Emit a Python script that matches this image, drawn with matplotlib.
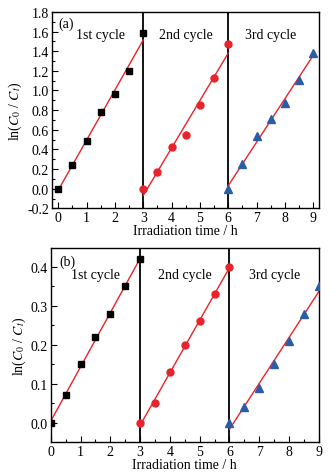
import numpy as np
import matplotlib
matplotlib.use("Agg")
import matplotlib.pyplot as plt

plt.rcParams['font.family'] = ['Liberation Serif', 'DejaVu Serif']
plt.rcParams['mathtext.fontset'] = 'stix'
plt.rcParams['font.size'] = 10

# time points for each cycle (h)
t1 = [0, 0.5, 1, 1.5, 2, 2.5, 3]
t2 = [3, 3.5, 4, 4.5, 5, 5.5, 6]
t3 = [6, 6.5, 7, 7.5, 8, 8.5, 9]

# panel (a)
a1 = [0.0, 0.24, 0.49, 0.78, 0.96, 1.20, 1.58]
a2 = [0.0, 0.17, 0.42, 0.55, 0.85, 1.13, 1.47]
a3 = [0.0, 0.25, 0.54, 0.71, 0.87, 1.11, 1.38]

# panel (b)
b1 = [0.0, 0.07, 0.15, 0.22, 0.28, 0.35, 0.42]
b2 = [0.0, 0.05, 0.13, 0.20, 0.26, 0.33, 0.40]
b3 = [0.0, 0.04, 0.09, 0.15, 0.21, 0.28, 0.35]

cycle_labels = ['1st cycle', '2nd cycle', '3rd cycle']

red = '#e8232a'
blue = '#2b5ca8'
styles = [('s', 'black', 4.2), ('o', red, 5), ('^', blue, 5.5)]

fig = plt.figure(figsize=(3.36, 4.77), dpi=100)
ax_a = fig.add_axes([0.154, 0.561, 0.795, 0.412])
ax_b = fig.add_axes([0.151, 0.071, 0.798, 0.408])


def draw_panel(ax, series, xlim, ylim, yticks, yminor, tag, tag_pos, lab_y):
    for (t, y), (m, c, ms) in zip(series, styles):
        ax.plot(t, y, linestyle='none', marker=m, color=c, markersize=ms, zorder=3)
        k, b = np.polyfit(t, y, 1)
        xx = np.array([t[0], t[-1]])
        ax.plot(xx, k * xx + b, color=red, lw=1, zorder=2)
    for xv in [3, 6]:
        ax.axvline(xv, color='black', lw=1.3, zorder=1)
    ax.set_xlim(*xlim)
    ax.set_ylim(*ylim)
    ax.set_xticks(range(0, 10))
    ax.set_xticks(np.arange(0.5, 9, 1), minor=True)
    ax.set_yticks(yticks)
    ax.set_yticks(yminor, minor=True)
    ax.tick_params(which='both', direction='in', top=False, right=False)
    ax.tick_params(which='major', length=4, width=0.8, pad=2)
    ax.tick_params(which='minor', length=2.5, width=0.8)
    ax.set_xlabel('Irradiation time / h', labelpad=0)
    ax.set_ylabel(r'ln($C_0$ / $C_t$)', labelpad=2)
    for sp in ax.spines.values():
        sp.set_linewidth(1)
    ax.text(tag_pos[0], tag_pos[1], tag, ha='left', va='center')
    for xc, lab in zip([1.5, 4.5, 7.5], cycle_labels):
        ax.text(xc, lab_y, lab, ha='center', va='center')


draw_panel(ax_a, [(t1, a1), (t2, a2), (t3, a3)], (-0.23, 9.2), (-0.2, 1.8),
           np.arange(-0.2, 1.81, 0.2), np.arange(-0.1, 1.8, 0.2),
           '(a)', (0.02, 1.68), 1.57)
ax_a.set_yticklabels([f'{v:.1f}' for v in np.arange(-0.2, 1.81, 0.2)])

draw_panel(ax_b, [(t1, b1), (t2, b2), (t3, b3)], (0, 9), (-0.05, 0.45),
           np.arange(0, 0.41, 0.1), np.arange(0.05, 0.45, 0.1),
           '(b)', (0.3, 0.415), 0.38)
ax_b.set_yticklabels([f'{v:.1f}' for v in np.arange(0, 0.41, 0.1)])

fig.savefig('out.png', dpi=100)
